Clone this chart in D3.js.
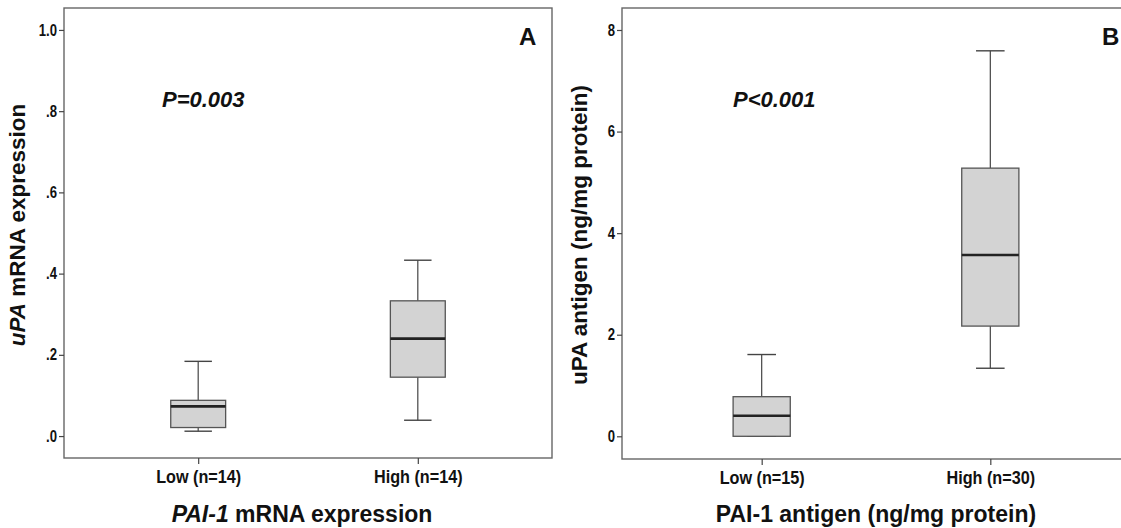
<!DOCTYPE html>
<html>
<head>
<meta charset="utf-8">
<script src="https://cdn.jsdelivr.net/npm/d3@7/dist/d3.min.js"></script>
<style>
  html, body { margin: 0; padding: 0; background: #fff; }
  svg { display: block; }
  .tick text { font-family: 'Liberation Sans', Arial, Helvetica, sans-serif; font-weight: bold; fill: #111; }
  .title { font-family: 'Liberation Sans', Arial, Helvetica, sans-serif; font-weight: bold; fill: #111; }
</style>
</head>
<body>
<script>
// ---- Data ----
const categoriesA = ["Low (n=14)", "High (n=14)"];
const whiskerLowA  = [0.012, 0.039];
const q1A          = [0.021, 0.145];
const medianA      = [0.073, 0.240];
const q3A          = [0.088, 0.333];
const whiskerHighA = [0.184, 0.433];
const yTicksA      = [0, 0.2, 0.4, 0.6, 0.8, 1.0];
const yTickLabelsA = [".0", ".2", ".4", ".6", ".8", "1.0"];

const categoriesB = ["Low (n=15)", "High (n=30)"];
const whiskerLowB  = [0, 1.34];
const q1B          = [0, 2.17];
const medianB      = [0.406, 3.57];
const q3B          = [0.78, 5.28];
const whiskerHighB = [1.61, 7.59];
const yTicksB      = [0, 2, 4, 6, 8];
const yTickLabelsB = ["0", "2", "4", "6", "8"];

const W = 1121, H = 528;
const svg = d3.select("body").append("svg").attr("width", W).attr("height", H);

function panel(cfg) {
  const g = svg.append("g");
  const x = d3.scalePoint().domain(cfg.categories).range([cfg.x0, cfg.x1]).padding(0.611);
  const y = d3.scaleLinear().domain(cfg.yDomain).range([cfg.y1, cfg.y0]);
  const boxW = x.step() * 0.25;

  // frame
  g.append("rect")
    .attr("x", cfg.x0).attr("y", cfg.y0)
    .attr("width", cfg.x1 - cfg.x0).attr("height", cfg.y1 - cfg.y0)
    .attr("fill", "none").attr("stroke", "#666").attr("stroke-width", 1.4);

  // y axis
  const yAxis = d3.axisLeft(y).tickValues(cfg.yTicks)
    .tickFormat((d, i) => cfg.yTickLabels[i]).tickSize(5).tickPadding(2);
  const ya = g.append("g").attr("transform", `translate(${cfg.x0},0)`).call(yAxis);
  ya.select(".domain").remove();
  ya.selectAll(".tick line").attr("stroke", "#444").attr("stroke-width", 1.2);
  ya.selectAll(".tick text").style("font-size", "16px")
    .attr("x", -7 / 0.82).attr("transform", "scale(0.82,1)");

  // x axis
  const xAxis = d3.axisBottom(x).tickSize(6).tickPadding(6);
  const xa = g.append("g").attr("transform", `translate(0,${cfg.y1})`).call(xAxis);
  xa.select(".domain").remove();
  xa.selectAll(".tick line").attr("stroke", "#444").attr("stroke-width", 1.2);
  xa.selectAll(".tick text").style("font-size", "18px").attr("transform", "scale(0.9,1)");

  // boxes
  const rows = cfg.categories.map((c, i) => ({
    c, lo: cfg.lo[i], q1: cfg.q1[i], med: cfg.med[i], q3: cfg.q3[i], hi: cfg.hi[i]
  }));
  const b = g.selectAll(".box").data(rows).enter().append("g").attr("class", "box");
  // whiskers
  b.append("line").attr("x1", d => x(d.c)).attr("x2", d => x(d.c))
    .attr("y1", d => y(d.q3)).attr("y2", d => y(d.hi))
    .attr("stroke", "#444").attr("stroke-width", 1.2);
  b.append("line").attr("x1", d => x(d.c)).attr("x2", d => x(d.c))
    .attr("y1", d => y(d.q1)).attr("y2", d => y(d.lo))
    .attr("stroke", "#444").attr("stroke-width", 1.2);
  b.append("line").attr("x1", d => x(d.c) - boxW / 4).attr("x2", d => x(d.c) + boxW / 4)
    .attr("y1", d => y(d.hi)).attr("y2", d => y(d.hi))
    .attr("stroke", "#444").attr("stroke-width", 1.4);
  b.append("line").attr("x1", d => x(d.c) - boxW / 4).attr("x2", d => x(d.c) + boxW / 4)
    .attr("y1", d => y(d.lo)).attr("y2", d => y(d.lo))
    .attr("stroke", "#444").attr("stroke-width", 1.4);
  // box
  b.append("rect").attr("x", d => x(d.c) - boxW / 2).attr("width", boxW)
    .attr("y", d => y(d.q3)).attr("height", d => y(d.q1) - y(d.q3))
    .attr("fill", "#d3d3d3").attr("stroke", "#555").attr("stroke-width", 1.3);
  // median
  b.append("line").attr("x1", d => x(d.c) - boxW / 2).attr("x2", d => x(d.c) + boxW / 2)
    .attr("y1", d => y(d.med)).attr("y2", d => y(d.med))
    .attr("stroke", "#222").attr("stroke-width", 2.6);

  // x title
  const xt = g.append("text").attr("class", "title")
    .attr("x", cfg.xTitleX).attr("y", 522).attr("text-anchor", "middle")
    .style("font-size", "23px");
  cfg.xTitle.forEach(p => xt.append("tspan").attr("font-style", p.italic ? "italic" : "normal").text(p.t));

  // y title
  const yt = g.append("text").attr("class", "title")
    .attr("transform", `translate(${cfg.yTitleX},${cfg.yTitleY}) rotate(-90)`)
    .attr("text-anchor", "middle").style("font-size", "22.5px");
  cfg.yTitle.forEach(p => yt.append("tspan").attr("font-style", p.italic ? "italic" : "normal").text(p.t));

  // P value
  g.append("text").attr("class", "title").attr("x", cfg.pX).attr("y", 107)
    .attr("font-style", "italic").style("font-size", "22px").text(cfg.pText);

  // panel letter
  g.append("text").attr("class", "title").attr("x", cfg.letterX).attr("y", 45)
    .style("font-size", "24px").text(cfg.letter);
}

panel({
  x0: 64, x1: 552, y0: 8, y1: 458,
  yDomain: [-0.054, 1.054],
  categories: categoriesA, lo: whiskerLowA, q1: q1A, med: medianA, q3: q3A, hi: whiskerHighA,
  yTicks: yTicksA, yTickLabels: yTickLabelsA,
  xTitle: [{ t: "PAI-1", italic: true }, { t: " mRNA expression", italic: false }], xTitleX: 302,
  yTitle: [{ t: "uPA", italic: true }, { t: " mRNA expression", italic: false }], yTitleX: 25, yTitleY: 225,
  pText: "P=0.003", pX: 162, letter: "A", letterX: 519
});

panel({
  x0: 622, x1: 1130, y0: 8, y1: 459,
  yDomain: [-0.447, 8.433],
  categories: categoriesB, lo: whiskerLowB, q1: q1B, med: medianB, q3: q3B, hi: whiskerHighB,
  yTicks: yTicksB, yTickLabels: yTickLabelsB,
  xTitle: [{ t: "PAI-1 antigen (ng/mg protein)", italic: false }], xTitleX: 876,
  yTitle: [{ t: "uPA antigen (ng/mg protein)", italic: false }], yTitleX: 587, yTitleY: 235,
  pText: "P<0.001", pX: 733, letter: "B", letterX: 1102
});
</script>
</body>
</html>
